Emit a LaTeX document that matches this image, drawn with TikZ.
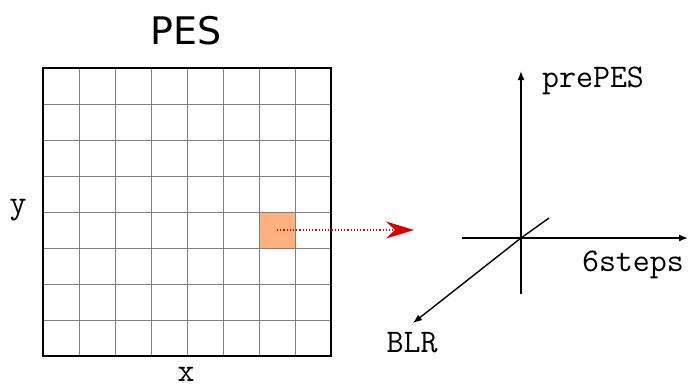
\documentclass[tikz,border=0pt]{standalone}
\usepackage{fontspec}
\setsansfont{DejaVu Sans}
\usetikzlibrary{arrows.meta}

\tikzset{
  gridline/.style={draw=black!50,line width=0.9pt},
  axis/.style={line width=1.4pt,-{Latex[length=9pt,width=7pt]}},
  axlabel/.style={font=\fontsize{33}{33}\selectfont\ttfamily},
}

\begin{document}
\begin{tikzpicture}[x=1pt,y=-1pt]
\useasboundingbox (0,0) rectangle (690,388);
% the PES grid
\fill[fill={rgb,255:red,255;green,176;blue,127}] (259,212) rectangle (295,248);
\foreach \i in {1,...,7} {
  \draw[gridline] (43+36*\i,68) -- (43+36*\i,356);
  \draw[gridline] (43,68+36*\i) -- (331,68+36*\i);
}
\draw[line width=1.8pt] (43,68) rectangle (331,356);
\node[font=\fontsize{38}{38}\selectfont\sffamily] (pes) at (186,31) {PES};
\node[axlabel] (ylab) at (18,210) {y};
\node[axlabel] (xlab) at (186,374) {x};
% selected cell maps to the axes
\coordinate (cell) at (277,230);
\coordinate (hit) at (414,230);
\draw[red!85!black,dotted,line width=1.2pt,-{Stealth[length=28pt,width=17pt,inset=9pt,fill=red!85!black]}] (cell) -- (hit);
% the three axes
\coordinate (o) at (521,238);
\coordinate (up) at (521,71);
\coordinate (down) at (521,294);
\coordinate (left) at (462,238);
\coordinate (right) at (688,238);
\coordinate (back) at (549,218);
\coordinate (front) at (413,323);
\draw[line width=1.4pt] (down) -- (o);
\draw[line width=1.4pt] (left) -- (o);
\draw[line width=1.4pt] (back) -- (o);
\draw[axis] (o) -- (up);
\draw[axis] (o) -- (right);
\draw[axis] (o) -- (front);
\node[axlabel] (prepes) at (593,81) {prePES};
\node[axlabel] (steps) at (633,265) {6steps};
\node[axlabel] (blr) at (412,343) {BLR};
\end{tikzpicture}
\end{document}
